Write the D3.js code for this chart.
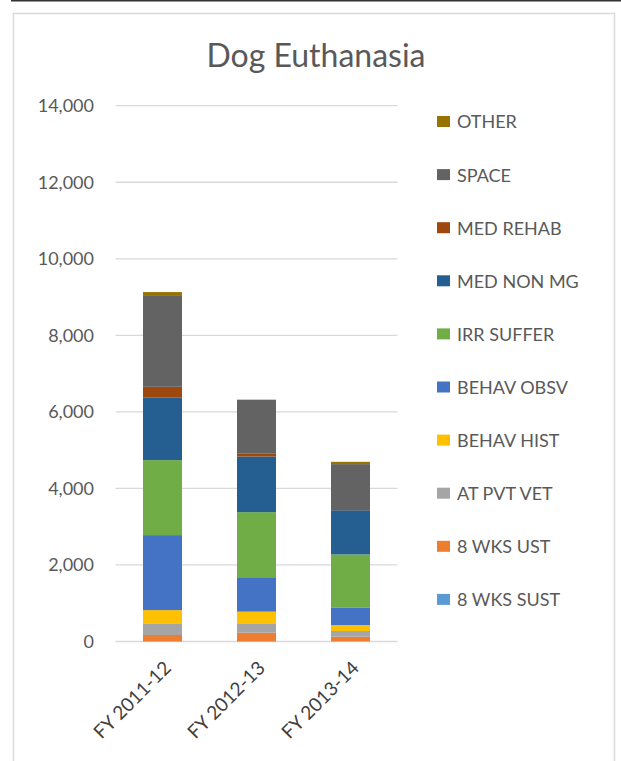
<!DOCTYPE html>
<html>
<head>
<meta charset="utf-8">
<script src="https://cdn.jsdelivr.net/npm/d3@7"></script>
<style>
  body { margin: 0; background: #fff; }
  svg text { font-family: Lato, "Open Sans", sans-serif; fill: #595959; }
</style>
</head>
<body>
<div class="svg-container"></div>
<script>
  // categories and series, bottom of stack first
  let years = ["FY 2011-12", "FY 2012-13", "FY 2013-14"];
  let series = ["8 WKS SUST", "8 WKS UST", "AT PVT VET", "BEHAV HIST", "BEHAV OBSV",
    "IRR SUFFER", "MED NON MG", "MED REHAB", "SPACE", "OTHER"];
  let colors = ["#5b9bd5", "#ed7d31", "#a5a5a5", "#ffc000", "#4472c4",
    "#70ad47", "#255e91", "#9e480e", "#636363", "#997300"];

  let sust = [10, 10, 5];
  let ust = [160, 220, 120];
  let pvtVet = [305, 245, 150];
  let behavHist = [345, 305, 155];
  let behavObsv = [1960, 900, 450];
  let irrSuffer = [1960, 1700, 1395];
  let medNonMg = [1640, 1455, 1155];
  let medRehab = [275, 70, 5];
  let space = [2395, 1410, 1200];
  let other = [80, 5, 60];

  let yTicks = [0, 2000, 4000, 6000, 8000, 10000, 12000, 14000];

  let width = 621,
    height = 761;

  let svg = d3.select(".svg-container").append("svg")
    .attr("width", width)
    .attr("height", height);

  // page line and chart frame
  svg.append("line")
    .attr("x1", 11).attr("x2", width)
    .attr("y1", 0.5).attr("y2", 0.5)
    .style("stroke", "#333")
    .style("stroke-width", 2);

  svg.append("rect")
    .attr("x", 13.5).attr("y", 13.5)
    .attr("width", 601).attr("height", 800)
    .style("fill", "none")
    .style("stroke", "#d9d9d9")
    .style("stroke-width", 1.5);

  //Title
  svg.append("text")
    .text("Dog Euthanasia")
    .attr("x", 316)
    .attr("y", 67)
    .attr("text-anchor", "middle")
    .style("font-size", "32px");

  const keys = series.map((s, i) => s);
  const valuesBySeries = [sust, ust, pvtVet, behavHist, behavObsv, irrSuffer, medNonMg, medRehab, space, other];
  const rows = years.map((y, j) => {
    let row = { year: y };
    keys.forEach((k, i) => row[k] = valuesBySeries[i][j]);
    return row;
  });

  const stacked = d3.stack().keys(keys)(rows);

  const yScale = d3.scaleLinear()
    .domain([0, 14000])
    .range([641.5, 105.7]);

  const xScale = d3.scaleBand()
    .domain(years)
    .range([115.5, 397.5])
    .paddingInner(0.585)
    .paddingOuter(0.2925);

  //Gridlines
  svg.append("g")
    .selectAll("line")
    .data(yTicks)
    .enter()
    .append("line")
    .attr("x1", 115.5)
    .attr("x2", 397.5)
    .attr("y1", d => yScale(d))
    .attr("y2", d => yScale(d))
    .style("stroke", "#d9d9d9")
    .style("stroke-width", 1.3);

  //Y labels
  const yAxis = d3.axisLeft(yScale)
    .tickValues(yTicks)
    .tickFormat(d3.format(","))
    .tickSize(0)
    .tickPadding(0);

  svg.append("g")
    .attr("transform", "translate(94,0)")
    .call(yAxis)
    .call(g => g.select(".domain").remove())
    .selectAll("text")
    .style("font-size", "18px")
    .style("fill", "#595959");

  //Bars
  svg.append("g")
    .selectAll("g")
    .data(stacked)
    .enter()
    .append("g")
    .style("fill", (d, i) => colors[i])
    .selectAll("rect")
    .data(d => d)
    .enter()
    .append("rect")
    .attr("x", d => xScale(d.data.year))
    .attr("width", xScale.bandwidth())
    .attr("y", d => yScale(d[1]))
    .attr("height", d => yScale(d[0]) - yScale(d[1]));

  //X labels
  const xAxis = d3.axisBottom(xScale)
    .tickSize(0)
    .tickPadding(0);

  svg.append("g")
    .attr("transform", "translate(0,641.5)")
    .call(xAxis)
    .call(g => g.select(".domain").remove())
    .selectAll("text")
    .attr("text-anchor", "end")
    .attr("transform", "translate(5,23) rotate(-45)")
    .attr("dy", "0.35em")
    .attr("y", 0)
    .style("font-size", "19px")
    .style("fill", "#404040");

  //Legend, top row is last series
  let legend = svg.append("g")
    .selectAll("g")
    .data(series.slice().reverse())
    .enter()
    .append("g")
    .attr("transform", (d, i) => "translate(437," + (122 + i * 53.1) + ")");

  legend.append("rect")
    .attr("x", 0)
    .attr("y", -6)
    .attr("width", 13)
    .attr("height", 11)
    .style("fill", d => colors[series.indexOf(d)]);

  legend.append("text")
    .text(d => d)
    .attr("x", 20)
    .attr("y", 0)
    .attr("dy", "0.36em")
    .style("font-size", "18px");
</script>
</body>
</html>
